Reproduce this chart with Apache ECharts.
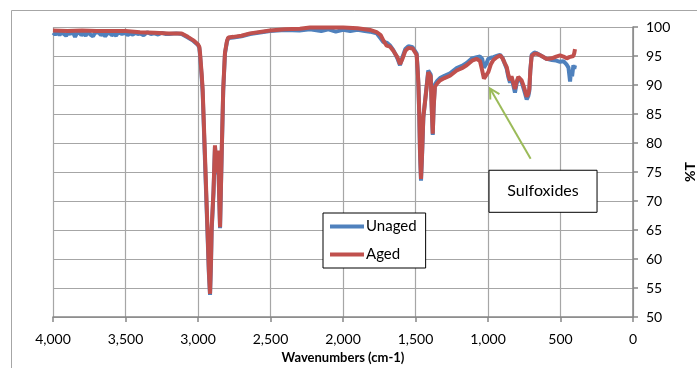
<!DOCTYPE html>
<html>
<head>
<meta charset="utf-8">
<script src="https://cdn.jsdelivr.net/npm/echarts@6/dist/echarts.min.js"></script>
<style>html,body{margin:0;padding:0;background:#fff;}#c{width:697px;height:368px;}</style>
</head>
<body>
<div id="c"></div>
<script>
const seriesNames = ['Unaged', 'Aged'];
const xTicks = [0, 500, 1000, 1500, 2000, 2500, 3000, 3500, 4000];
const yTicks = [50, 55, 60, 65, 70, 75, 80, 85, 90, 95, 100];
const annotationText = 'Sulfoxides';
const arrowTip = [986, 89.4];
const arrowTail = [706, 77.3];

const unaged = [
[4000,99.0],[3985,98.7],[3970,99.1],[3955,98.6],[3940,99.1],[3925,98.8],[3910,98.5],[3895,99.0],[3880,98.8],[3864,99.2],[3848,98.3],[3835,98.9],[3820,99.1],[3805,98.6],[3790,98.9],[3775,98.5],[3760,99.2],[3742,98.7],[3724,98.4],[3710,99.0],[3700,98.8],[3685,99.1],[3670,98.6],[3655,98.9],[3640,98.4],[3625,98.9],[3610,99.0],[3595,98.6],[3580,98.8],[3565,98.5],[3550,99.1],[3525,98.8],[3500,99.0],[3485,98.6],[3470,98.9],[3450,98.7],[3430,99.0],[3415,98.8],[3400,98.9],[3375,98.6],[3350,99.1],[3325,98.8],[3300,98.9],[3275,98.7],[3250,99.0],[3225,98.8],[3200,98.8],[3150,98.9],[3113,98.8],
[3070,98.2],[3032,97.6],[3000,96.9],[2991,96.4],[2986,95.2],[2975,91.5],[2968,88.8],[2952,77.0],[2936,65.5],[2925,57.5],[2917,53.8],[2910,59.5],[2906,64.8],[2893,71.5],[2883,79.4],[2871,74.6],[2862,78.5],[2848,65.3],[2837,77.6],[2826,89.0],[2814,95.4],[2800,97.5],[2791,98.1],[2756,98.2],[2700,98.4],[2641,98.8],[2503,99.3],
[2400,99.5],[2300,99.4],[2228,99.6],[2150,99.3],[2100,99.6],[2050,99.2],[2000,99.5],[1950,99.3],[1900,99.5],[1850,99.3],[1814,99.2],[1768,98.9],[1740,98.0],[1722,97.4],[1699,97.3],[1675,96.8],[1653,96.0],[1625,94.6],[1607,93.4],[1590,94.8],[1570,96.2],[1549,96.7],[1520,96.5],[1492,95.4],
[1484,92.2],[1480,90.0],[1474,84.6],[1469,78.2],[1462,73.5],[1455,77.6],[1446,84.3],[1428,88.7],[1412,92.5],[1400,92.6],[1395,91.8],[1388,86.0],[1381,81.4],[1375,86.2],[1366,90.1],[1350,90.7],[1331,91.2],[1300,91.6],[1262,92.0],[1216,92.9],[1180,93.3],[1147,93.8],[1110,94.6],[1078,94.8],[1055,94.9],[1040,94.5],[1028,93.0],[1015,93.5],[998,94.5],[980,94.7],[963,94.8],[940,95.0],[917,95.2],
[900,94.7],[885,93.7],[871,92.8],[860,91.4],[848,90.4],[838,91.3],[826,91.5],[814,88.7],[803,90.2],[791,91.3],[780,91.0],[768,90.5],[750,89.0],[733,87.5],[722,88.1],[715,89.0],[708,92.6],[699,95.2],[680,95.6],[664,95.5],[630,95.0],[595,94.5],[560,94.3],[530,94.2],[503,94.0],[480,94.1],[457,93.5],[445,93.0],[434,90.6],[428,92.5],[420,91.5],[411,93.4],[405,92.8],[400,93.4]
];

const aged = [
[4000,99.4],[3900,99.3],[3800,99.4],[3700,99.3],[3600,99.3],[3500,99.3],[3400,99.1],[3300,99.0],[3200,98.9],[3150,98.9],[3113,98.9],[3070,98.3],[3032,97.7],[3000,97.0],[2991,96.6],[2986,95.5],[2975,92.0],[2968,89.3],[2952,77.9],[2936,66.3],[2925,58.0],[2917,54.0],[2910,60.0],[2906,65.2],[2893,71.8],[2883,79.6],[2871,74.9],[2862,78.7],[2848,65.5],[2837,77.9],[2826,89.3],[2814,95.6],[2800,97.6],[2791,98.2],[2756,98.3],[2700,98.5],[2641,98.9],[2503,99.4],[2400,99.6],[2297,99.7],[2228,99.9],[2100,99.9],[1998,99.9],[1900,99.8],[1814,99.5],[1768,99.1],[1740,98.6],[1722,97.7],[1699,96.8],[1675,96.6],[1653,95.9],[1625,94.8],[1607,93.6],[1590,94.5],[1570,95.9],[1549,96.4],[1520,96.3],[1492,95.2],[1484,92.0],[1480,90.2],[1474,85.0],[1469,78.7],[1462,73.8],[1455,78.0],[1446,84.5],[1428,88.5],[1412,92.2],[1400,92.3],[1395,91.5],[1388,86.0],[1381,81.6],[1375,86.0],[1366,89.7],[1350,90.3],[1331,90.8],[1300,91.2],[1262,91.6],[1216,92.5],[1180,92.9],[1147,93.4],[1110,94.2],[1078,94.5],[1055,94.1],[1040,92.5],[1028,91.1],[1015,91.3],[998,92.2],[980,93.6],[963,94.3],[940,94.8],[917,95.1],[900,94.6],[885,93.8],[871,93.1],[860,91.8],[848,90.8],[838,91.5],[826,91.7],[814,89.3],[803,90.5],[791,91.4],[780,91.2],[768,90.8],[750,89.5],[733,88.0],[722,88.5],[715,89.3],[708,92.5],[699,95.0],[680,95.4],[664,95.4],[630,95.0],[595,94.5],[560,94.6],[530,94.9],[503,95.1],[480,94.9],[457,94.6],[440,94.8],[430,95.0],[411,95.0],[405,95.5],[400,96.2]
];

const FONT = 'Lato';
const chart = echarts.init(document.getElementById('c'), null, {renderer: 'canvas'});
const option = {
  animation: false,
  backgroundColor: '#fff',
  textStyle: {fontFamily: FONT},
  grid: {left: 53, right: 64, top: 27, bottom: 51, containLabel: false, outerBoundsMode: 'none'},
  legend: {
    orient: 'vertical', left: 323, top: 213,
    data: seriesNames,
    icon: 'rect', itemWidth: 34, itemHeight: 4, itemGap: 13,
    padding: [6, 9, 6, 7],
    borderColor: '#000', borderWidth: 1, backgroundColor: '#fff',
    textStyle: {fontFamily: FONT, fontSize: 15, color: '#000', padding: [0, 0, 0, -3]}
  },
  xAxis: {
    type: 'value', inverse: true, min: xTicks[0], max: xTicks[xTicks.length - 1], interval: 500,
    name: 'Wavenumbers (cm-1)', nameLocation: 'middle', nameGap: 34,
    nameTextStyle: {fontFamily: FONT, fontWeight: 'bold', fontSize: 13, color: '#000'},
    axisLine: {show: true, lineStyle: {color: '#868686', width: 1.5}},
    axisTick: {show: true, length: 5, lineStyle: {color: '#868686', width: 1.5}},
    axisLabel: {fontFamily: FONT, fontSize: 14, color: '#000', margin: 15,
      formatter: v => v.toLocaleString('en-US')},
    splitLine: {show: true, lineStyle: {color: '#a6a6a6', width: 1.2}}
  },
  yAxis: {
    type: 'value', position: 'right', min: yTicks[0], max: yTicks[yTicks.length - 1], interval: 5,
    name: '%T', nameLocation: 'middle', nameGap: 50, nameRotate: 90,
    nameTextStyle: {fontFamily: FONT, fontWeight: 'bold', fontSize: 14, color: '#000'},
    axisLine: {show: true, lineStyle: {color: '#868686', width: 1.5}},
    axisTick: {show: true, length: 5, lineStyle: {color: '#868686', width: 1.5}},
    axisLabel: {fontFamily: FONT, fontSize: 14, color: '#000', margin: 13},
    splitLine: {show: true, lineStyle: {color: '#a6a6a6', width: 1.2}}
  },
  series: [
    {name: seriesNames[0], type: 'line', data: unaged, showSymbol: false, symbol: 'none',
     lineStyle: {color: '#4F81BD', width: 4}, itemStyle: {color: '#4F81BD'}, z: 2},
    {name: seriesNames[1], type: 'line', data: aged, showSymbol: false, symbol: 'none',
     lineStyle: {color: '#C0504D', width: 4}, itemStyle: {color: '#C0504D'}, z: 3}
  ]
};
chart.setOption(option);

// annotation: box + arrow placed via the chart's coordinate system
const tip = chart.convertToPixel({gridIndex: 0}, arrowTip);
const tail = chart.convertToPixel({gridIndex: 0}, arrowTail);
const ang = Math.atan2(tail[1] - tip[1], tail[0] - tip[0]);
const hl = 11, ha = 0.5;
const h1 = [tip[0] + hl * Math.cos(ang + ha), tip[1] + hl * Math.sin(ang + ha)];
const h2 = [tip[0] + hl * Math.cos(ang - ha), tip[1] + hl * Math.sin(ang - ha)];
const boxTL = chart.convertToPixel({gridIndex: 0}, [993, 75.3]);
const boxBR = chart.convertToPixel({gridIndex: 0}, [248, 68.05]);
chart.setOption({
  graphic: [
    {type: 'rect', left: 9, top: 8, z: -10, silent: true,
     shape: {x: 0, y: 0, width: 720, height: 400},
     style: {fill: 'none', stroke: '#a6a6a6', lineWidth: 1}},
    {type: 'line', z: 100, shape: {x1: tail[0], y1: tail[1], x2: tip[0], y2: tip[1]},
     style: {stroke: '#9BBB59', lineWidth: 2}},
    {type: 'polyline', z: 100, shape: {points: [h1, tip, h2]},
     style: {stroke: '#9BBB59', lineWidth: 2, fill: 'none'}},
    {type: 'rect', z: 100, shape: {x: boxTL[0], y: boxTL[1], width: boxBR[0] - boxTL[0], height: boxBR[1] - boxTL[1]},
     style: {fill: '#fff', stroke: '#000', lineWidth: 1}},
    {type: 'text', z: 101, x: (boxTL[0] + boxBR[0]) / 2, y: (boxTL[1] + boxBR[1]) / 2,
     style: {text: annotationText, fontFamily: FONT, fontSize: 16, fill: '#000', align: 'center', verticalAlign: 'middle'}}
  ]
});
</script>
</body>
</html>
